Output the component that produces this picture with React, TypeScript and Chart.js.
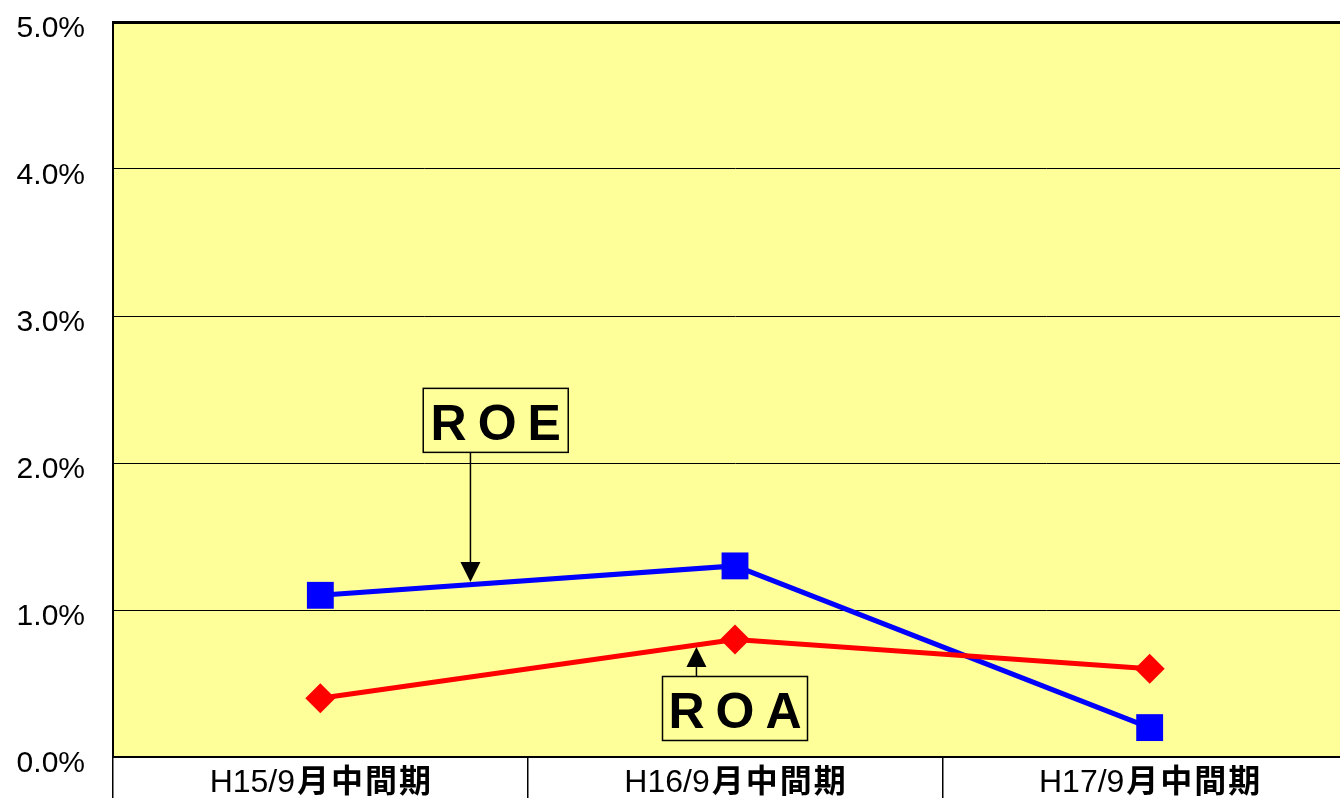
import React, { useEffect, useRef } from 'react';
import { Chart, registerables } from 'chart.js';

Chart.register(...registerables);

const categories = ['H15/9月中間期', 'H16/9月中間期', 'H17/9月中間期'];
const roeValues = [1.1, 1.3, 0.2];
const roaValues = [0.4, 0.8, 0.6];
const yTickValues = [0, 1, 2, 3, 4, 5];

// callouts: label box centre and arrow tip, in data coordinates (category index, %)
const calloutLabels = ['ROE', 'ROA'];
const calloutBoxAt = [
  [0.423, 2.29],
  [1.0, 0.33],
];
const calloutTipAt = [
  [0.362, 1.19],
  [0.907, 0.748],
];

const PLOT_BG = '#FFFF99';
const CANVAS_W = 1360;
const CANVAS_H = 798;

const fmtPct = (v: number) => v.toFixed(1) + '%';

const framePlugin = {
  id: 'framePlugin',
  beforeDraw(chart: any) {
    const { ctx, chartArea: a } = chart;
    ctx.save();
    ctx.fillStyle = PLOT_BG;
    ctx.fillRect(a.left, a.top, a.right - a.left, a.bottom - a.top);
    ctx.restore();
  },
  afterDatasetsDraw(chart: any) {
    const { ctx } = chart;
    const xs = chart.scales.x;
    const ys = chart.scales.y;
    const boxW = 145;
    const boxH = 64;
    calloutLabels.forEach((label, i) => {
      const cx = xs.getPixelForValue(calloutBoxAt[i][0]);
      const cy = ys.getPixelForValue(calloutBoxAt[i][1]);
      const tx = xs.getPixelForValue(calloutTipAt[i][0]);
      const ty = ys.getPixelForValue(calloutTipAt[i][1]);
      const left = cx - boxW / 2;
      const top = cy - boxH / 2;
      ctx.save();
      // arrow
      const fromY = ty > cy ? top + boxH : top;
      const dir = ty > cy ? 1 : -1;
      const headL = 20;
      const headW = 10;
      ctx.strokeStyle = '#000';
      ctx.lineWidth = 1.5;
      ctx.beginPath();
      ctx.moveTo(tx, fromY);
      ctx.lineTo(tx, ty - dir * headL);
      ctx.stroke();
      ctx.fillStyle = '#000';
      ctx.beginPath();
      ctx.moveTo(tx, ty);
      ctx.lineTo(tx - headW, ty - dir * headL);
      ctx.lineTo(tx + headW, ty - dir * headL);
      ctx.closePath();
      ctx.fill();
      // box
      ctx.fillStyle = PLOT_BG;
      ctx.fillRect(left, top, boxW, boxH);
      ctx.lineWidth = 1.5;
      ctx.strokeRect(left, top, boxW, boxH);
      // text
      ctx.fillStyle = '#000';
      ctx.font = 'bold 50px "Liberation Sans", Arial, sans-serif';
      const spacing = 11;
      (ctx as any).letterSpacing = spacing + 'px';
      const w = ctx.measureText(label).width - spacing;
      ctx.textAlign = 'left';
      ctx.textBaseline = 'alphabetic';
      ctx.fillText(label, cx - w / 2, cy + 20);
      (ctx as any).letterSpacing = '0px';
      ctx.restore();
    });
  },
  afterDraw(chart: any) {
    const { ctx } = chart;
    const xs = chart.scales.x;
    const ys = chart.scales.y;
    // y tick labels
    ctx.save();
    ctx.fillStyle = '#000';
    ctx.font = '30px "Liberation Sans", Arial, sans-serif';
    ctx.textAlign = 'right';
    ctx.textBaseline = 'alphabetic';
    yTickValues.forEach((v) => {
      const py = ys.getPixelForValue(v);
      ctx.fillText(fmtPct(v), ys.right - 28, py + 15);
    });
    ctx.restore();
    // x category labels
    const latinFont = '32px "Liberation Sans", Arial, sans-serif';
    const cjkFont = 'bold 32px "Noto Sans CJK JP", sans-serif';
    const cjkSpacing = 2;
    categories.forEach((c, i) => {
      const k = c.indexOf('月');
      const a = c.slice(0, k);
      const b = c.slice(k);
      ctx.save();
      ctx.fillStyle = '#000';
      ctx.textAlign = 'left';
      ctx.textBaseline = 'alphabetic';
      ctx.font = latinFont;
      const wa = ctx.measureText(a).width;
      ctx.font = cjkFont;
      (ctx as any).letterSpacing = cjkSpacing + 'px';
      const wb = ctx.measureText(b).width - cjkSpacing;
      (ctx as any).letterSpacing = '0px';
      const cx = xs.getPixelForValue(i);
      const gap = 2;
      const sx = cx - (wa + wb + gap) / 2;
      const baseY = xs.top + 35;
      ctx.font = latinFont;
      ctx.fillText(a, sx, baseY);
      ctx.font = cjkFont;
      (ctx as any).letterSpacing = cjkSpacing + 'px';
      ctx.fillText(b, sx + wa + gap, baseY);
      (ctx as any).letterSpacing = '0px';
      ctx.restore();
    });
  },
};

export default function App() {
  const ref = useRef<HTMLCanvasElement | null>(null);

  useEffect(() => {
    if (!ref.current) return;
    const chart = new Chart(ref.current, {
      type: 'line',
      data: {
        labels: categories,
        datasets: [
          {
            label: 'ROA',
            data: roaValues,
            borderColor: '#FF0000',
            backgroundColor: '#FF0000',
            borderWidth: 5,
            pointStyle: 'rectRot',
            pointRadius: 15,
            pointHoverRadius: 15,
            pointBackgroundColor: '#FF0000',
            pointBorderWidth: 0,
            tension: 0,
            clip: false as any,
          },
          {
            label: 'ROE',
            data: roeValues,
            borderColor: '#0000FF',
            backgroundColor: '#0000FF',
            borderWidth: 5,
            pointStyle: 'rect',
            pointRadius: 19,
            pointHoverRadius: 19,
            pointBackgroundColor: '#0000FF',
            pointBorderWidth: 0,
            tension: 0,
            clip: false as any,
          },
        ],
      },
      options: {
        animation: false,
        responsive: false,
        maintainAspectRatio: false,
        devicePixelRatio: 1,
        events: [],
        layout: { autoPadding: false, padding: { top: 22, left: 0, right: 3, bottom: 0 } },
        plugins: {
          legend: { display: false },
          tooltip: { enabled: false },
          title: { display: false },
        },
        scales: {
          x: {
            type: 'category',
            offset: true,
            grid: {
              offset: true,
              drawOnChartArea: false,
              drawTicks: true,
              tickLength: 41,
              color: '#000',
              lineWidth: 1.5,
            },
            border: { display: true, color: '#000', width: 2 },
            ticks: { display: false },
            afterFit: (s: any) => {
              s.height = 41;
              s.paddingLeft = 0;
              s.paddingRight = 0;
              s.paddingTop = 0;
              s.paddingBottom = 0;
            },
          },
          y: {
            type: 'linear',
            min: 0,
            max: 5,
            afterBuildTicks: (s: any) => {
              s.ticks = yTickValues.map((v) => ({ value: v }));
            },
            grid: {
              color: '#000',
              lineWidth: (c: any) => (c.tick && c.tick.value === 5 ? 3 : 1),
              drawTicks: false,
            },
            border: { display: true, color: '#000', width: 2 },
            ticks: {
              display: false,
              callback: (v: any) => fmtPct(Number(v)),
            },
            afterFit: (s: any) => {
              s.width = 113;
              s.paddingLeft = 0;
              s.paddingRight = 0;
              s.paddingTop = 0;
              s.paddingBottom = 0;
            },
          },
        },
      },
      plugins: [framePlugin],
    });
    return () => chart.destroy();
  }, []);

  return (
    <div
      style={{
        position: 'fixed',
        left: 0,
        top: 0,
        width: 1340,
        height: CANVAS_H,
        overflow: 'hidden',
        background: '#fff',
      }}
    >
      <div style={{ width: CANVAS_W, height: CANVAS_H, position: 'relative' }}>
        <canvas
          ref={ref}
          width={CANVAS_W}
          height={CANVAS_H}
          style={{ display: 'block', width: CANVAS_W, height: CANVAS_H }}
        />
      </div>
    </div>
  );
}
